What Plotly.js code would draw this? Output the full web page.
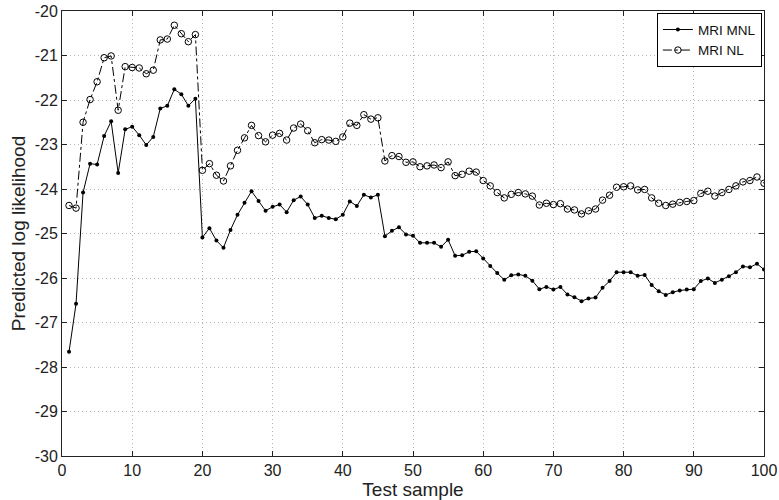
<!DOCTYPE html>
<html>
<head>
<meta charset="utf-8">
<script src="https://cdn.plot.ly/plotly-3.0.1.min.js"></script>
<style>html,body{margin:0;padding:0;background:#fff;}#chart{width:779px;height:500px;}</style>
</head>
<body>
<div id="chart"></div>
<script>
const testSample = Array.from({length: 100}, (_, i) => i + 1);

const mriMNL = [
  -27.66, -26.58, -24.08, -23.43, -23.45, -22.81, -22.48, -23.64, -22.66, -22.60,
  -22.79, -23.01, -22.83, -22.19, -22.13, -21.76, -21.87, -22.13, -21.97, -25.09,
  -24.88, -25.16, -25.32, -24.92, -24.58, -24.31, -24.05, -24.27, -24.49, -24.40,
  -24.35, -24.52, -24.25, -24.17, -24.35, -24.65, -24.60, -24.65, -24.68, -24.58,
  -24.28, -24.38, -24.13, -24.19, -24.13, -25.06, -24.94, -24.86, -25.02, -25.05,
  -25.21, -25.21, -25.21, -25.30, -25.14, -25.50, -25.49, -25.41, -25.40, -25.56,
  -25.73, -25.89, -26.04, -25.94, -25.92, -25.95, -26.06, -26.25, -26.20, -26.26,
  -26.20, -26.37, -26.43, -26.52, -26.46, -26.44, -26.22, -26.07, -25.87, -25.87,
  -25.87, -25.95, -25.93, -26.16, -26.30, -26.38, -26.32, -26.28, -26.26, -26.25,
  -26.07, -26.01, -26.11, -26.04, -25.96, -25.87, -25.74, -25.76, -25.68, -25.81
];

const mriNL = [
  -24.37, -24.43, -22.50, -21.99, -21.59, -21.05, -21.01, -22.23, -21.25, -21.27,
  -21.28, -21.41, -21.33, -20.65, -20.63, -20.32, -20.51, -20.69, -20.53, -23.58,
  -23.43, -23.69, -23.82, -23.48, -23.13, -22.85, -22.57, -22.80, -22.94, -22.79,
  -22.75, -22.90, -22.63, -22.54, -22.69, -22.96, -22.89, -22.90, -22.93, -22.83,
  -22.52, -22.57, -22.33, -22.43, -22.40, -23.37, -23.25, -23.27, -23.40, -23.39,
  -23.50, -23.48, -23.46, -23.52, -23.39, -23.70, -23.67, -23.60, -23.62, -23.81,
  -23.93, -24.08, -24.20, -24.12, -24.08, -24.11, -24.16, -24.36, -24.32, -24.35,
  -24.33, -24.45, -24.47, -24.56, -24.49, -24.45, -24.25, -24.14, -23.96, -23.95,
  -23.93, -24.02, -24.01, -24.20, -24.32, -24.37, -24.34, -24.30, -24.28, -24.26,
  -24.10, -24.05, -24.16, -24.08, -24.01, -23.93, -23.84, -23.81, -23.73, -23.87
];

const seriesNames = ['MRI MNL', 'MRI NL'];
const xTicks = [0, 10, 20, 30, 40, 50, 60, 70, 80, 90, 100];
const yTicks = [-30, -29, -28, -27, -26, -25, -24, -23, -22, -21, -20];

const font = 'Liberation Sans, Arial, Helvetica, sans-serif';

const traces = [
  {
    x: testSample, y: mriMNL, name: seriesNames[0], type: 'scatter', mode: 'lines+markers',
    line: {color: '#000', width: 1, dash: 'solid'},
    marker: {symbol: 'circle', size: 4, color: '#000'}
  },
  {
    x: testSample, y: mriNL, name: seriesNames[1], type: 'scatter', mode: 'lines+markers',
    line: {color: '#000', width: 1, dash: 'dashdot'},
    marker: {symbol: 'circle-open', size: 6.5, color: '#000', line: {width: 1, color: '#000'}}
  }
];

const axisCommon = {
  showline: true, linecolor: '#222', linewidth: 1, mirror: 'ticks',
  ticks: 'inside', ticklen: 5, tickcolor: '#222', tickwidth: 1,
  showgrid: true, gridcolor: '#b4b4b4', griddash: '1px,3px', gridwidth: 1,
  zeroline: false, tickfont: {family: font, size: 16, color: '#222'}
};

const layout = {
  width: 779, height: 500,
  margin: {l: 62, r: 15, t: 11, b: 44},
  paper_bgcolor: '#fff', plot_bgcolor: '#fff',
  showlegend: true,
  legend: {
    x: 0.997, y: 0.995, xanchor: 'right', yanchor: 'top',
    bgcolor: '#fff', bordercolor: '#000', borderwidth: 1,
    font: {family: font, size: 13.5, color: '#111'},
    tracegroupgap: 0, itemwidth: 30
  },
  xaxis: Object.assign({}, axisCommon, {
    range: [0, 100], tickvals: xTicks, ticktext: xTicks.map(String),
    title: {text: 'Test sample', font: {family: font, size: 19, color: '#222'}, standoff: 1}
  }),
  yaxis: Object.assign({}, axisCommon, {
    range: [-30, -20], tickvals: yTicks, ticktext: yTicks.map(String),
    title: {text: 'Predicted log likelihood', font: {family: font, size: 19, color: '#222'}, standoff: 4}
  })
};

Plotly.newPlot('chart', traces, layout, {displayModeBar: false, staticPlot: true});
</script>
</body>
</html>
